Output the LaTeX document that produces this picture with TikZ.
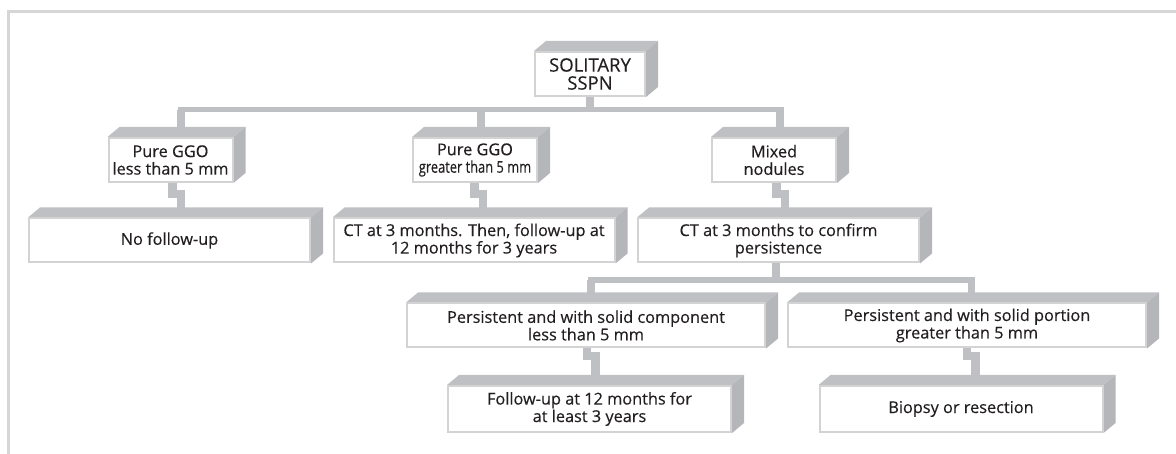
\documentclass[tikz,border=0pt]{standalone}
\usepackage{fontspec}
\setmainfont{Open Sans}
\newfontfamily\boxfont{Open Sans}[UprightFeatures={FakeBold=0.3}]
\usetikzlibrary{backgrounds,calc}
\definecolor{facetop}{HTML}{BFC0C4}
\definecolor{faceside}{HTML}{B5B6BA}
\definecolor{edgec}{HTML}{D3D3D3}
\definecolor{linkc}{HTML}{BFC0C4}
\definecolor{framec}{HTML}{D6D6D6}
\definecolor{txt}{HTML}{231F20}
\tikzset{
  x=1pt, y=-1pt,
  box/.style={draw=edgec, line width=2pt, fill=white, inner sep=0pt, align=center,
    text=txt, font=\boxfont\fontsize{16.3}{17.5}\selectfont, minimum height=44pt},
  small/.style={box, minimum width=124pt},
  mid/.style={box, minimum width=281pt},
  wide/.style={box, minimum width=358pt},
  bus/.style={draw=linkc, line width=5pt},
  drop/.style={draw=linkc, line width=7.5pt},
  stepc/.style={draw=linkc, line width=8.5pt},
  frame/.style={draw=framec, line width=2.5pt}
}
\begin{document}
\begin{tikzpicture}
\useasboundingbox (0,0) rectangle (1176,454);
\draw[frame] (8.5,454) -- (8.5,11.5) -- (1176,11.5);

\node[small, minimum width=110pt, font=\boxfont\fontsize{18.5}{18}\selectfont] (s)  at (590,74)    {SOLITARY\\SSPN};
\node[small] (a1) at (170.5,160)  {Pure GGO\\less than 5 mm};
\node[small] (a2) at (475,160)    {Pure GGO\\{\scalebox{0.79}[1]{greater than 5 mm}}};
\node[small] (a3) at (774,160)    {Mixed\\nodules};
\node[mid]   (b1) at (169.5,240.5) {No follow-up};
\node[mid]   (b2) at (474,240.5)  {CT at 3 months. Then, follow-up at\\12 months for 3 years};
\node[mid]   (b3) at (778.5,240.5) {CT at 3 months to confirm\\persistence};
\node[wide]  (c1) at (586,325.5)  {Persistent and with solid component\\less than 5 mm};
\node[wide]  (c2) at (967,325.5)  {Persistent and with solid portion\\greater than 5 mm};
\node[mid, minimum width=283pt, minimum height=46pt] (d1) at (589.5,409) {Follow-up at 12 months for\\at least 3 years};
\node[mid, minimum width=283pt, minimum height=46pt] (d2) at (961,409)   {Biopsy or resection};

\begin{pgfonlayer}{background}
\foreach \n in {s,a1,a2,a3,b1,b2,b3,c1,c2,d1,d2}{
  \fill[facetop] (\n.north west) -- ++(12,-10) -- ($(\n.north east)+(12,-10)$) -- (\n.north east) -- cycle;
  \fill[faceside] (\n.north east) -- ++(12,-10) -- ($(\n.south east)+(12,-10)$) -- (\n.south east) -- cycle;
}
% first level bus
\coordinate (bs) at (590,110);
\coordinate (bl) at (181,110);
\coordinate (bm) at (481,110);
\coordinate (br) at (780,110);
\draw[drop] (s.south) -- (bs);
\draw[bus] ([xshift=-3.5pt]bl) -- ([xshift=3.5pt]br);
\draw[drop] (bl) -- (bl |- a1.north);
\draw[drop] (bm) -- (bm |- a2.north);
\draw[drop] (br) -- (br |- a3.north);
% steps
\draw[stepc] (a1.south -| 172.5,0) -- (172.5,194) -- (181,194) -- (181,208);
\draw[stepc] (a2.south -| 474.5,0) -- (474.5,194) -- (483,194) -- (483,208);
\draw[stepc] (a3.south -| 776.5,0) -- (776.5,194) -- (785,194) -- (785,208);
% second bus
\coordinate (cs) at (776,280);
\coordinate (cl) at (591,280);
\coordinate (cr) at (971.5,280);
\draw[drop] (b3.south -| cs) -- (cs);
\draw[bus, line width=6pt] ([xshift=-3.5pt]cl) -- ([xshift=3.5pt]cr);
\draw[drop] (cl) -- (cl |- c1.north);
\draw[drop] (cr) -- (cr |- c2.north);
\draw[stepc] (c1.south -| 587,0) -- (587,356) -- (595.5,356) -- (595.5,376);
\draw[stepc] (c2.south -| 967,0) -- (967,356) -- (975.5,356) -- (975.5,376);
\end{pgfonlayer}
\end{tikzpicture}
\end{document}
